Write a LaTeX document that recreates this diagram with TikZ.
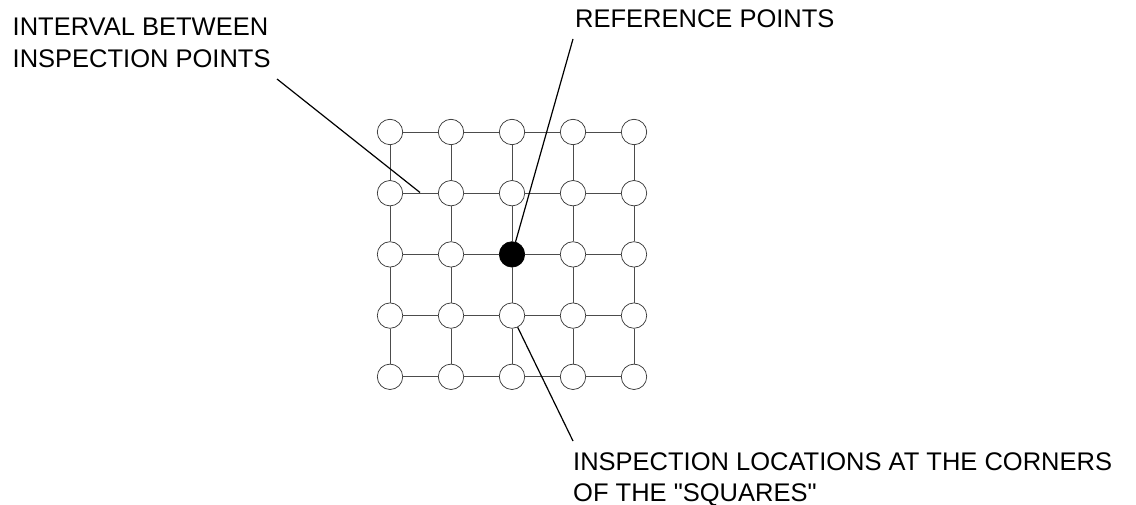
\documentclass[tikz,border=0pt]{standalone}
\usepackage{fontspec}
\setmainfont{Liberation Sans}[Ligatures=TeXOff]
\begin{document}
\begin{tikzpicture}[x=1pt,y=-1pt,
  pt/.style={circle,draw=black!80,line width=0.7pt,fill=white,minimum size=25.4pt,inner sep=0pt},
  refpt/.style={pt,fill=black,draw=black},
  gridline/.style={draw=black!70,line width=0.8pt},
  leader/.style={draw=black,line width=1.2pt},
  lbl/.style={font=\fontsize{25.5}{32}\selectfont,inner sep=0pt,align=left,anchor=north west}]
\useasboundingbox (0,0) rectangle (1136,505);
\foreach \i in {1,...,5}{\foreach \j in {1,...,5}{
  \ifnum\i\j=33 \def\st{refpt}\else\def\st{pt}\fi
  \node[\st] (c\i\j) at ({390+61*(\i-1)},{132+61.2*(\j-1)}) {};
}}
\foreach \j in {1,...,5}{\foreach \i/\k in {1/2,2/3,3/4,4/5}{
  \draw[gridline] (c\i\j) -- (c\k\j);
  \draw[gridline] (c\j\i) -- (c\j\k);
}}
\node[lbl] (interval) at (12.5,17.8) {INTERVAL BETWEEN\\INSPECTION POINTS};
\node[lbl] (reference) at (575,9.8) {REFERENCE POINTS};
\node[lbl,font=\fontsize{25.5}{31}\selectfont] (inspection) at (573,452.8) {INSPECTION LOCATIONS AT THE CORNERS\\OF THE "SQUARES"};
\coordinate (intA) at (277,79);
\coordinate (intB) at (420,192.5);
\draw[leader] (intA) -- (intB);
\coordinate (refA) at (573,39);
\draw[leader] (refA) -- (c33);
\coordinate (insB) at (573,441);
\draw[leader] (c34) -- (insB);
\end{tikzpicture}
\end{document}
